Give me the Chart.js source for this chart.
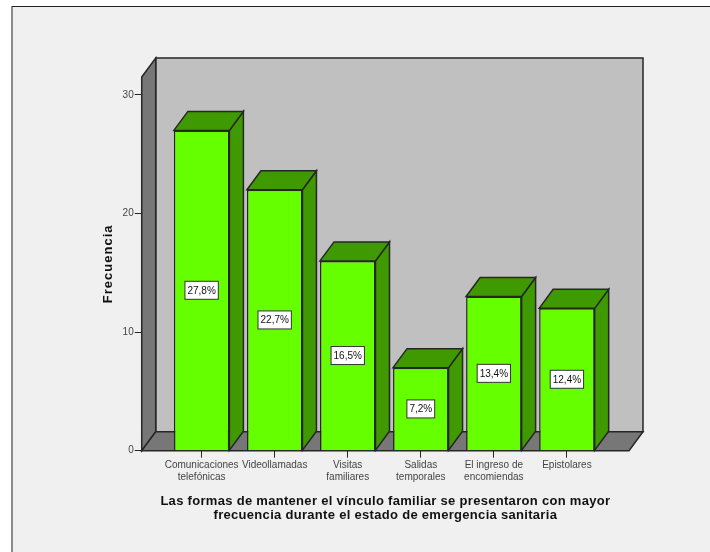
<!DOCTYPE html>
<html>
<head>
<meta charset="utf-8">
<style>
  html, body { margin: 0; padding: 0; background: #fff; }
  canvas { display: block; }
</style>
<script src="https://cdn.jsdelivr.net/npm/chart.js@4"></script>
</head>
<body>
<canvas id="grafico" width="710" height="552"></canvas>
<script>
const categorias = [
  ['Comunicaciones', 'telefónicas'],
  'Videollamadas',
  ['Visitas', 'familiares'],
  ['Salidas', 'temporales'],
  ['El ingreso de', 'encomiendas'],
  'Epistolares'
];
const frecuencias = [27, 22, 16, 7, 13, 12];
const porcentajes = ['27,8%', '22,7%', '16,5%', '7,2%', '13,4%', '12,4%'];
const ticksY = [0, 10, 20, 30];

// profundidad del efecto 3D
const dx = 14;
const dy = 19;
const linea = '#262626';

function poligono(ctx, puntos, relleno) {
  ctx.beginPath();
  puntos.forEach((p, i) => (i ? ctx.lineTo(p[0], p[1]) : ctx.moveTo(p[0], p[1])));
  ctx.closePath();
  ctx.fillStyle = relleno;
  ctx.fill();
  ctx.lineWidth = 1.5;
  ctx.strokeStyle = linea;
  ctx.stroke();
}

// los títulos del original van con las letras algo separadas
function espaciarTitulo(axis, espacio) {
  const original = axis.drawTitle;
  axis.drawTitle = function () {
    axis.ctx.letterSpacing = espacio;
    original.call(axis);
    axis.ctx.letterSpacing = '0px';
  };
}

const fondo = {
  id: 'fondo',
  afterLayout(chart) {
    if (chart.$espaciado) return;
    chart.$espaciado = true;
    espaciarTitulo(chart.scales.x, '0.3px');
    espaciarTitulo(chart.scales.y, '1px');
  },
  beforeDraw(chart) {
    const ctx = chart.ctx;
    ctx.save();
    ctx.fillStyle = '#f0f0f0';
    ctx.fillRect(12, 6, 698, 546);
    ctx.fillStyle = '#8c8c8c';
    ctx.fillRect(11, 6, 2, 546);
    ctx.fillStyle = '#222';
    ctx.fillRect(12, 6, 698, 1);
    ctx.restore();
  },
  beforeDatasetsDraw(chart) {
    const ctx = chart.ctx;
    const a = chart.chartArea;
    ctx.save();
    // paredes
    poligono(ctx, [[a.left + dx, a.top - dy], [a.right + dx, a.top - dy], [a.right + dx, a.bottom - dy], [a.left + dx, a.bottom - dy]], '#c0c0c0');
    poligono(ctx, [[a.left, a.top], [a.left + dx, a.top - dy], [a.left + dx, a.bottom - dy], [a.left, a.bottom]], '#777777');
    poligono(ctx, [[a.left, a.bottom], [a.left + dx, a.bottom - dy], [a.right + dx, a.bottom - dy], [a.right, a.bottom]], '#777777');
    // caras laterales y superiores de las barras
    chart.getDatasetMeta(0).data.forEach((bar) => {
      const l = bar.x - bar.width / 2;
      const r = bar.x + bar.width / 2;
      poligono(ctx, [[r, bar.y], [r + dx, bar.y - dy], [r + dx, bar.base - dy], [r, bar.base]], '#3f9900');
      poligono(ctx, [[l, bar.y], [l + dx, bar.y - dy], [r + dx, bar.y - dy], [r, bar.y]], '#3f9900');
    });
    ctx.restore();
  },
  afterDatasetsDraw(chart) {
    const ctx = chart.ctx;
    ctx.save();
    ctx.font = '10px "Liberation Sans", Arial, sans-serif';
    ctx.textAlign = 'center';
    ctx.textBaseline = 'middle';
    chart.getDatasetMeta(0).data.forEach((bar, i) => {
      const cy = (bar.y + bar.base) / 2;
      const w = ctx.measureText(porcentajes[i]).width + 5;
      ctx.fillStyle = '#fff';
      ctx.fillRect(bar.x - w / 2, cy - 9, w, 18);
      ctx.lineWidth = 1;
      ctx.strokeStyle = '#333';
      ctx.strokeRect(bar.x - w / 2, cy - 9, w, 18);
      ctx.fillStyle = '#111';
      ctx.fillText(porcentajes[i], bar.x, cy + 0.5);
    });
    ctx.restore();
  }
};

new Chart(document.getElementById('grafico'), {
  type: 'bar',
  data: {
    datasets: [{
      data: frecuencias.map((v, i) => ({ x: i, y: v })),
      backgroundColor: '#66ff00',
      borderColor: linea,
      borderWidth: 1.5,
      barPercentage: 0.76,
      categoryPercentage: 1
    }]
  },
  options: {
    responsive: false,
    animation: false,
    layout: { padding: { left: 101, right: 81, top: 77, bottom: 30 } },
    plugins: { legend: { display: false }, tooltip: { enabled: false } },
    scales: {
      x: {
        type: 'linear',
        offset: false,
        min: -0.82,
        max: 5.85,
        afterBuildTicks(axis) {
          axis.ticks = categorias.map((c, i) => ({ value: i }));
        },
        grid: { offset: false, drawOnChartArea: false, color: linea, tickLength: 7 },
        border: { display: false },
        ticks: {
          autoSkip: false,
          maxRotation: 0,
          padding: 2,
          color: '#444',
          font: { family: '"Liberation Sans", Arial, sans-serif', size: 10, lineHeight: 1.15 },
          callback: (v) => categorias[v]
        },
        title: {
          display: true,
          text: [
            'Las formas de mantener el vínculo familiar se presentaron con mayor',
            'frecuencia durante el estado de emergencia sanitaria'
          ],
          color: '#111',
          padding: { top: 10, bottom: 0 },
          font: { family: '"Liberation Sans", Arial, sans-serif', size: 13, weight: 'bold', lineHeight: 1.05 }
        }
      },
      y: {
        min: 0,
        max: 31.5,
        afterBuildTicks(axis) {
          axis.ticks = ticksY.map((v) => ({ value: v }));
        },
        grid: { drawOnChartArea: false, color: linea, tickLength: 7 },
        border: { display: false },
        ticks: {
          padding: 1,
          color: '#444',
          font: { family: '"Liberation Sans", Arial, sans-serif', size: 10 }
        },
        title: {
          display: true,
          text: 'Frecuencia',
          color: '#111',
          padding: { top: 0, bottom: 5 },
          font: { family: '"Liberation Sans", Arial, sans-serif', size: 13, weight: 'bold' }
        }
      }
    }
  },
  plugins: [fondo]
});
</script>
</body>
</html>
